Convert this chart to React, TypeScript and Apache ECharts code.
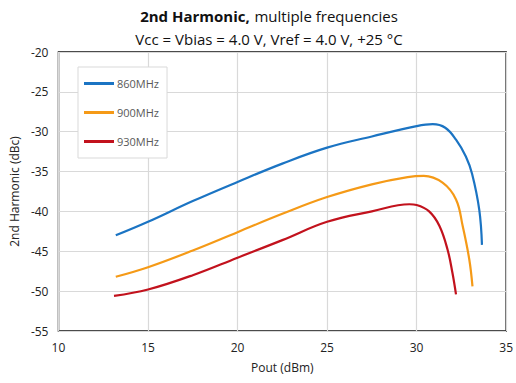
import React, { useEffect, useRef } from "react";
import * as echarts from "echarts";

const seriesNames = ["860MHz", "900MHz", "930MHz"];
const colors = ["#1b74c3", "#f59a17", "#c2121d"];

const pout860 = [13.2, 15, 17.5, 20, 22.5, 25, 27.5, 30, 30.9, 31.6, 32.2, 32.75, 33.1, 33.5, 33.65];
const h2_860 = [-43.0, -41.3, -38.7, -36.3, -34.0, -32.0, -30.6, -29.3, -29.05, -29.5, -31.0, -33.1, -35.3, -39.8, -44.2];

const pout900 = [13.2, 15, 17.5, 20, 22.5, 25, 27.5, 29.5, 30.4, 31.45, 32.2, 32.57, 32.94, 33.12];
const h2_900 = [-48.2, -47.0, -44.9, -42.6, -40.3, -38.2, -36.6, -35.7, -35.55, -36.4, -38.5, -41.8, -46.0, -49.4];

const pout930 = [13.1, 15, 17.5, 20, 22.5, 25, 27.5, 29.6, 30.0, 30.7, 31.27, 31.73, 32.0, 32.2];
const h2_930 = [-50.6, -49.8, -48.0, -45.8, -43.6, -41.3, -40.0, -39.1, -39.2, -40.0, -41.8, -44.8, -47.7, -50.4];

const xTicks = [10, 15, 20, 25, 30, 35];
const yTicks = [-55, -50, -45, -40, -35, -30, -25, -20];

export default function App() {
  const ref = useRef<HTMLDivElement>(null);
  useEffect(() => {
    if (!ref.current) return;
    document.body.style.margin = "0";
    const chart = echarts.init(ref.current, null, { renderer: "svg" });
    const xs = [pout860, pout900, pout930];
    const ys = [h2_860, h2_900, h2_930];
    const font = "'Open Sans', 'Noto Sans', sans-serif";
    chart.setOption({
      animation: false,
      textStyle: { fontFamily: font },
      title: [
        {
          text: "{b|2nd Harmonic,} {n|multiple frequencies}",
          left: 264,
          textAlign: "center",
          top: 2,
          textStyle: {
            rich: {
              b: { fontWeight: "bold", fontSize: 15, color: "#111", fontFamily: font },
              n: { fontWeight: "normal", fontSize: 15, color: "#111", fontFamily: font },
            },
          },
        },
        {
          text: "Vcc = Vbias = 4.0 V, Vref = 4.0 V, +25 °C",
          left: 264,
          textAlign: "center",
          top: 26,
          textStyle: { fontWeight: "normal", fontSize: 15, color: "#111", fontFamily: font },
        },
      ],
      legend: {
        orient: "vertical",
        left: 78,
        top: 67,
        padding: [11, 8, 11, 6],
        itemGap: 18,
        itemWidth: 30,
        itemHeight: 3,
        icon: "rect",
        borderColor: "#d9d9d9",
        borderWidth: 1,
        backgroundColor: "#fff",
        textStyle: { color: "#595959", fontSize: 11, fontFamily: font, padding: [0, 0, 0, -2] },
        data: seriesNames,
      },
      grid: {
        left: 58,
        right: 9,
        top: 52,
        bottom: 52,
        show: true,
        borderColor: "#111",
        borderWidth: 1.5,
      },
      xAxis: {
        type: "value",
        min: xTicks[0],
        max: xTicks[xTicks.length - 1],
        interval: 5,
        name: "Pout (dBm)",
        nameLocation: "middle",
        nameGap: 30,
        nameTextStyle: { color: "#222", fontSize: 12 },
        axisLine: { show: false },
        axisTick: { show: false },
        axisLabel: { color: "#222", fontSize: 12, margin: 10 },
        splitLine: { lineStyle: { color: "#d9d9d9", width: 1.2 } },
      },
      yAxis: {
        type: "value",
        min: yTicks[0],
        max: yTicks[yTicks.length - 1],
        interval: 5,
        name: "2nd Harmonic (dBc)",
        nameLocation: "middle",
        nameGap: 37,
        nameTextStyle: { color: "#222", fontSize: 12 },
        axisLine: { show: false },
        axisTick: { show: false },
        axisLabel: { color: "#222", fontSize: 12, margin: 10 },
        splitLine: { lineStyle: { color: "#d9d9d9", width: 1.2 } },
      },
      series: seriesNames.map((name, i) => ({
        name,
        type: "line",
        data: xs[i].map((x, j) => [x, ys[i][j]]),
        smooth: 0.4,
        showSymbol: false,
        symbol: "none",
        lineStyle: { color: colors[i], width: 2.2 },
        itemStyle: { color: colors[i] },
      })),
    });
    return () => chart.dispose();
  }, []);
  return <div ref={ref} style={{ width: 516, height: 383 }} />;
}
